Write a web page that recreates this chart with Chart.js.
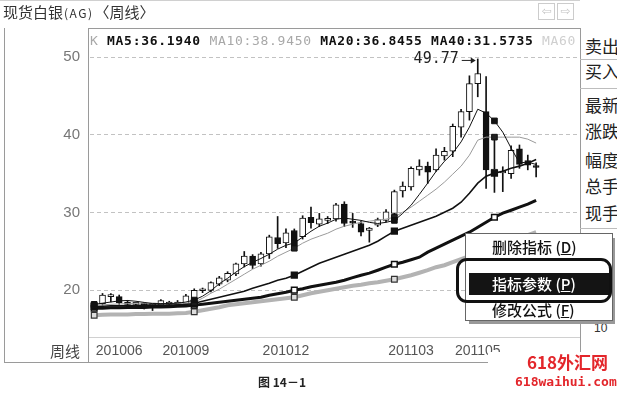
<!DOCTYPE html>
<html><head><meta charset="utf-8">
<script src="https://cdn.jsdelivr.net/npm/chart.js@4.4.1/dist/chart.umd.min.js"></script>
<style>
html,body{margin:0;padding:0;background:#fff;}
#wrap{position:relative;width:617px;height:396px;overflow:hidden;background:#fff;}
canvas{position:absolute;left:0;top:0;}
.t{position:absolute;white-space:nowrap;line-height:1;}
.cjk{font-family:"Noto Sans CJK SC","Noto Sans",sans-serif;}
#legend{position:absolute;left:90px;top:34px;width:488px;overflow:hidden;white-space:nowrap;font-family:"DejaVu Sans Mono",monospace;font-size:13px;letter-spacing:0.7px;line-height:1;}
#legend b{font-weight:bold;color:#111;}
#legend .g{color:#a8a8a8;}
#legend .g2{color:#cfcfcf;}
#rpanel{position:absolute;left:580px;top:28px;width:40px;height:334px;background:#fff;border-left:1px solid #9a9a9a;}
.rl{position:absolute;left:585px;font-size:17px;color:#222;}
.hl{position:absolute;left:580px;width:37px;height:1px;background:#bdbdbd;}
#menu{position:absolute;left:465px;top:233px;width:146px;height:86px;background:#fff;border:1px solid #666;box-shadow:3px 4px 0 -1px #999;}
#band{position:absolute;left:469px;top:273px;width:141px;height:22px;background:#141414;}
.mi{position:absolute;left:492px;font-size:15px;font-weight:500;color:#111;}
#ring{position:absolute;left:456px;top:258px;width:156px;height:45px;box-sizing:border-box;border:3px solid #111;border-radius:11px;}
.btn{position:absolute;top:3px;width:17px;height:17px;box-sizing:border-box;border:1px solid #ccc;color:#c4c4c4;font-size:12px;text-align:center;line-height:15px;font-family:"DejaVu Sans",sans-serif;}
#wm{position:absolute;left:488px;top:352px;width:129px;height:44px;background:#fff;}
</style></head><body>
<div id="wrap">
<canvas id="c" width="617" height="396"></canvas>

<div class="t cjk" style="left:3px;top:4px;font-size:15px;color:#333;">现货白银<span style="font-size:12px;letter-spacing:1.5px;margin:0 1px;">(AG)</span>〈周线〉</div>
<div class="btn" style="left:538px;">⇦</div>
<div class="btn" style="left:557px;">⇨</div>

<div id="legend"></div>

<div id="rpanel"></div>
<div class="hl" style="top:59px;"></div>
<div class="hl" style="top:88px;"></div>
<div class="hl" style="top:228px;"></div>
<div class="t cjk rl" style="top:37px;">卖出</div>
<div class="t cjk rl" style="top:62px;">买入</div>
<div class="t cjk rl" style="top:96px;">最新</div>
<div class="t cjk rl" style="top:122px;">涨跌</div>
<div class="t cjk rl" style="top:151px;">幅度</div>
<div class="t cjk rl" style="top:177px;">总手</div>
<div class="t cjk rl" style="top:204px;">现手</div>

<div class="t cjk" style="left:50px;top:343px;font-size:15px;color:#444;">周线</div>

<div class="t" style="left:594px;top:322px;font-size:12px;color:#333;font-family:'Liberation Sans',sans-serif;">10</div>
<div id="menu"></div>
<div class="t cjk mi" style="top:239px;">删除指标 (<u>D</u>)</div>
<div id="band"></div>
<div class="t cjk mi" style="top:276px;color:#fff;">指标参数 (<u>P</u>)</div>
<div class="t cjk mi" style="top:302px;">修改公式 (<u>F</u>)</div>
<div id="ring"></div>

<div class="t cjk" style="left:258px;top:376px;font-size:12px;font-weight:bold;color:#222;">图 14－1</div>

<div id="wm"></div>
<div class="t cjk" style="left:527px;top:353px;font-size:17px;font-weight:bold;color:#e3262b;">618外汇网</div>
<div class="t" style="left:515px;top:375px;font-size:13px;font-weight:bold;color:#e3262b;font-family:'DejaVu Sans Mono',monospace;">618waihui.com</div>
</div>

<script>
// ---- categories (weekly bars) ----
const weeks = ['2010-06-07','2010-06-14','2010-06-21','2010-06-28','2010-07-05','2010-07-12','2010-07-19','2010-07-26',
'2010-08-02','2010-08-09','2010-08-16','2010-08-23','2010-08-30','2010-09-06','2010-09-13','2010-09-20','2010-09-27',
'2010-10-04','2010-10-11','2010-10-18','2010-10-25','2010-11-01','2010-11-08','2010-11-15','2010-11-22','2010-11-29',
'2010-12-06','2010-12-13','2010-12-20','2010-12-27','2011-01-03','2011-01-10','2011-01-17','2011-01-24','2011-01-31',
'2011-02-07','2011-02-14','2011-02-21','2011-02-28','2011-03-07','2011-03-14','2011-03-21','2011-03-28',
'2011-04-04','2011-04-11','2011-04-18','2011-04-25','2011-05-02','2011-05-09','2011-05-16','2011-05-23','2011-05-30',
'2011-06-06','2011-06-13','2011-06-20','2011-06-27','2011-07-04','2011-07-11','2011-07-18'];

// ---- axis tick labels ----
const tickWeeks  = ['2010-06-28','2010-08-23','2010-11-15','2011-02-28','2011-04-25'];
const tickLabels = ['201006','201009','201012','201103','201105'];
const yTicks = [20, 30, 40, 50];

// ---- candles ----
const opens  = [17.9,18.3,19.2,19.2,18.5,18.2,18.3,18.1,18.1,18.2,18.2,18.3,18.5,19.95,20.0,20.8,21.3,22.1,23.4,24.4,23.4,24.7,26.8,26.1,27.7,26.9,29.4,28.5,29.0,29.2,31.1,28.8,28.6,27.7,28.4,29.0,29.9,32.8,33.3,35.5,36.0,35.5,37.3,37.9,41.0,43.0,46.6,43.0,35.0,35.1,35.0,38.2,36.7,35.85];
const closes = [18.3,19.4,19.25,18.4,18.2,18.35,18.1,18.2,18.7,18.5,18.5,19.3,20.0,20.0,21.0,21.6,22.2,23.4,24.4,23.2,24.7,26.9,26.0,27.4,26.4,29.3,28.7,29.2,29.05,31.0,28.6,28.65,27.5,28.0,29.1,30.1,32.7,33.4,35.7,36.0,35.2,37.4,37.9,41.1,43.0,46.6,47.9,35.5,35.6,35.2,38.0,36.2,36.1,35.8];
const highs  = [18.6,19.6,19.6,19.4,18.7,18.5,18.4,18.3,18.8,18.6,18.7,19.5,20.2,20.3,21.1,21.8,22.4,23.5,25.0,24.6,24.9,27.1,29.5,27.9,27.9,29.6,30.7,29.9,29.5,31.2,31.4,29.9,28.9,28.1,29.3,30.4,32.9,33.95,35.9,36.8,36.5,38.2,38.4,41.4,43.3,47.6,49.77,47.5,39.8,35.9,38.6,38.7,37.4,36.4];
const lows   = [17.6,18.1,18.5,18.2,18.0,17.9,17.6,17.4,17.9,18.0,18.0,18.1,18.3,19.7,19.8,20.6,21.1,21.9,23.0,22.8,23.1,24.1,25.4,25.5,25.8,26.6,28.0,28.2,28.6,28.9,28.2,28.1,27.0,26.2,28.2,28.8,29.6,32.0,32.9,34.8,33.75,35.3,36.75,37.2,39.7,41.9,44.9,33.1,32.6,32.7,34.4,35.7,35.5,34.6];

// ---- moving averages ----
const ma5  = [18.2,18.35,18.5,18.65,18.7,18.6,18.45,18.3,18.3,18.3,18.35,18.5,18.75,19.25,19.95,20.85,21.55,22.35,23.05,23.6,24.1,24.65,25.3,25.8,26.1,26.85,27.6,28.25,28.65,29.15,29.3,29.15,29.0,28.75,28.6,28.75,29.0,29.9,30.95,32.35,33.8,35.3,36.6,37.65,39.1,41.0,43.3,42.8,41.8,40.35,38.3,36.4,36.5,36.194];
const ma10 = [18.1,18.15,18.2,18.25,18.3,18.35,18.35,18.35,18.3,18.3,18.3,18.35,18.47,18.99,19.63,20.15,20.79,21.43,22.08,22.72,23.23,23.75,24.39,24.91,25.42,26.07,26.58,26.97,27.35,27.87,28.25,28.51,28.77,28.9,29.03,29.16,29.41,30.06,30.7,31.47,32.24,33.02,33.92,34.95,35.98,37.39,39.32,39.71,39.71,39.71,39.71,39.71,39.45,38.945];
const ma20 = [17.95,17.95,18.0,18.0,18.05,18.05,18.1,18.1,18.1,18.1,18.15,18.2,18.34,18.6,18.86,19.12,19.37,19.63,19.89,20.27,20.6,20.92,21.3,21.56,21.95,22.46,22.98,23.49,23.88,24.27,24.65,25.04,25.42,25.81,26.32,26.97,27.61,28.0,28.38,28.77,29.16,29.54,30.06,30.57,31.34,32.5,33.79,34.69,35.08,35.33,35.72,35.98,36.36,36.8455];
const ma40 = [17.7,17.7,17.75,17.75,17.8,17.8,17.8,17.85,17.85,17.9,17.95,18.0,18.1,18.22,18.34,18.47,18.6,18.73,18.86,18.99,19.12,19.37,19.57,19.76,20.02,20.21,20.47,20.66,20.85,21.05,21.3,21.63,21.95,22.21,22.59,22.98,23.36,23.62,23.94,24.27,24.91,25.42,25.94,26.45,26.97,27.48,28.12,28.77,29.41,29.93,30.31,30.7,31.09,31.5735];
const ma60 = [16.8,16.85,16.9,16.9,16.9,16.95,16.95,17.0,17.0,17.0,17.05,17.1,17.25,17.44,17.64,17.83,18.09,18.22,18.34,18.47,18.6,18.73,18.86,18.99,19.12,19.37,19.63,19.82,20.02,20.21,20.4,20.6,20.73,20.92,21.05,21.24,21.43,21.69,21.95,22.27,22.59,22.98,23.23,23.62,24.01,24.39,24.78,25.17,25.55,25.94,26.32,26.71,27.1,27.48];

// legend text from the last MA values
const last = a => a[a.length - 1].toFixed(4);
document.getElementById('legend').innerHTML =
  '<span class="g">K</span> <b>MA5:' + last(ma5) + '</b> <span class="g">MA10:' + last(ma10) +
  '</span> <b>MA20:' + last(ma20) + '</b> <b>MA40:' + last(ma40) + '</b> <span class="g2">MA60</span>';

const bodyData = opens.map((o, i) => [o, closes[i]]);
const wickData = lows.map((l, i) => [l, highs[i]]);
const isUp = i => closes[i] >= opens[i];
const mark = (r) => (c) => (c.dataIndex % 12 === 0 ? r : 0);

const framePlugin = {
  id: 'frame',
  afterDraw(chart) {
    const c = chart.ctx;
    c.save();
    const L = (x1, y1, x2, y2) => { c.beginPath(); c.moveTo(x1, y1); c.lineTo(x2, y2); c.stroke(); };
    c.lineWidth = 1;
    c.strokeStyle = '#d0d0d0';
    L(88, 337.5, 580, 337.5);
    L(0, 0.5, 580, 0.5);
    c.strokeStyle = '#9a9a9a';
    L(4.5, 28, 4.5, 362);
    L(88.5, 28, 88.5, 362);
    L(88, 28.5, 580, 28.5);
    L(4, 362.5, 580, 362.5);
    // peak annotation
    const iMax = highs.indexOf(Math.max(...highs));
    const px = chart.scales.x.getPixelForValue(iMax);
    const py = chart.scales.y.getPixelForValue(highs[iMax]);
    c.fillStyle = '#222';
    c.font = '15px "DejaVu Sans Mono"';
    c.textAlign = 'right';
    c.textBaseline = 'middle';
    c.fillText(highs[iMax].toFixed(2), px - 19, py);
    c.strokeStyle = '#222';
    L(px - 16, py + 1.5, px - 4, py + 1.5);
    c.beginPath(); c.moveTo(px - 2, py + 1.5); c.lineTo(px - 7, py - 1.5); c.lineTo(px - 7, py + 4.5); c.closePath(); c.fill();
    c.restore();
  }
};

new Chart(document.getElementById('c'), {
  type: 'bar',
  data: {
    labels: weeks,
    datasets: [
      { type: 'line', label: 'MA5', data: ma5, borderColor: '#111', borderWidth: 1, tension: 0, fill: false,
        pointStyle: 'rect', pointRadius: mark(4), pointBackgroundColor: '#111', pointBorderColor: '#111', order: 1 },
      { type: 'line', label: 'MA10', data: ma10, borderColor: '#9a9a9a', borderWidth: 1, tension: 0, fill: false,
        pointStyle: 'rect', pointRadius: mark(4), pointBackgroundColor: '#222', pointBorderColor: '#111', order: 2 },
      { type: 'line', label: 'MA20', data: ma20, borderColor: '#111', borderWidth: 1.6, tension: 0, fill: false,
        pointStyle: 'rect', pointRadius: mark(4), pointBackgroundColor: '#111', pointBorderColor: '#111', order: 3 },
      { type: 'line', label: 'MA40', data: ma40, borderColor: '#111', borderWidth: 3, tension: 0, fill: false,
        pointStyle: 'rect', pointRadius: mark(4), pointBackgroundColor: '#fff', pointBorderColor: '#111', pointBorderWidth: 1.5, order: 4 },
      { type: 'line', label: 'MA60', data: ma60, borderColor: '#b3b3b3', borderWidth: 4, tension: 0, fill: false,
        pointStyle: 'rect', pointRadius: mark(4), pointBackgroundColor: '#ddd', pointBorderColor: '#333', pointBorderWidth: 1.2, order: 5 },
      { label: 'body', data: bodyData, grouped: false, barThickness: 6, minBarLength: 2,
        backgroundColor: c => (isUp(c.dataIndex) ? '#fff' : '#111'), borderColor: '#111', borderWidth: 1,
        borderSkipped: false, order: 6 },
      { label: 'wick', data: wickData, grouped: false, barThickness: 1, backgroundColor: '#111', borderWidth: 0, order: 7 }
    ]
  },
  options: {
    responsive: false,
    animation: false,
    events: [],
    devicePixelRatio: 1,
    layout: { padding: { left: 5, right: 35, top: 28, bottom: 34 } },
    plugins: { legend: { display: false }, tooltip: { enabled: false }, title: { display: false } },
    scales: {
      x: {
        grid: { display: false, drawTicks: false },
        border: { display: false },
        afterFit: s => { s.height = 25; },
        ticks: {
          autoSkip: false, maxRotation: 0, minRotation: 0, padding: 6,
          color: '#555', font: { family: 'Liberation Sans', size: 14 },
          callback: function (v, i) { const k = tickWeeks.indexOf(weeks[i]); return k >= 0 ? tickLabels[k] : ''; }
        }
      },
      y: {
        min: 14, max: 53.75,
        afterFit: s => { s.width = 85; },
        afterBuildTicks: s => { s.ticks = yTicks.map(v => ({ value: v })); },
        grid: { color: '#c2c2c2', lineWidth: 1, drawTicks: false },
        border: { display: false, dash: [4, 3] },
        ticks: { padding: 10, color: '#777', font: { family: 'Liberation Sans', size: 15 } }
      }
    }
  },
  plugins: [framePlugin]
});
</script>
</body></html>
